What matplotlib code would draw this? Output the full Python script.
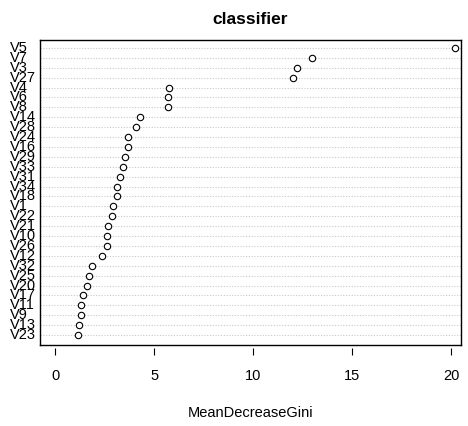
import matplotlib
matplotlib.use("Agg")
import matplotlib.pyplot as plt
import numpy as np

variables = ["V5", "V7", "V3", "V27", "V4", "V6", "V8", "V14", "V28", "V24",
             "V16", "V29", "V33", "V31", "V34", "V18", "V1", "V22", "V21", "V10",
             "V26", "V12", "V32", "V25", "V20", "V17", "V11", "V9", "V13", "V23"]
mean_decrease_gini = [20.2, 13.0, 12.2, 12.0, 5.76, 5.70, 5.70, 4.30, 4.08, 3.69,
                      3.67, 3.54, 3.42, 3.28, 3.15, 3.11, 2.91, 2.88, 2.69, 2.63,
                      2.63, 2.39, 1.85, 1.70, 1.63, 1.43, 1.31, 1.30, 1.21, 1.15]
x_ticks = [0, 5, 10, 15, 20]
title = "classifier"
xlabel = "MeanDecreaseGini"

fam = ["Liberation Sans Narrow", "Liberation Sans", "DejaVu Sans"]
plt.rcParams["font.family"] = fam

W, H = 468, 426
fig = plt.figure(figsize=(W / 100, H / 100), dpi=100)
ax = fig.add_axes([40 / W, 1 - 345 / H, (461 - 40) / W, (345 - 40) / H])

n = len(variables)
pos = np.arange(n, 0, -1)  # top row = n

for p in pos:
    ax.axhline(p, color="#c8c8c8", lw=0.8, ls=(0, (1, 1.5)), zorder=1)

ax.plot(mean_decrease_gini, pos, ls="none", marker="o", markersize=4.6,
        markerfacecolor="white", markeredgecolor="black", markeredgewidth=0.8, zorder=3)

ax.set_xlim(-0.76, 20.5)
ax.set_ylim(0.0, n + 0.8)
ax.set_yticks([])
ax.set_xticks([])
for s in ax.spines.values():
    s.set_color("black")
    s.set_linewidth(1.0)

for name, p in zip(variables, pos):
    ax.text(-30 / 421, p, name, transform=ax.get_yaxis_transform(), ha="left",
            va="center", fontsize=10.5, color="black", family=fam)

sec = ax.secondary_xaxis(-0.01)
sec.spines["bottom"].set_visible(False)
sec.set_xticks(x_ticks)
sec.set_xticklabels([str(t) for t in x_ticks])
sec.tick_params(axis="x", direction="out", length=5, width=0.8, pad=10, labelsize=10.5,
                colors="black")

fig.text((40 + 461) / 2 / W, 1 - 20 / H, title, ha="center", va="center",
         fontsize=12.5, fontweight="bold", family=fam)
fig.text((40 + 461) / 2 / W, 1 - 413 / H, xlabel, ha="center", va="center",
         fontsize=10.5, family=fam)

fig.savefig("out.png", dpi=100)
